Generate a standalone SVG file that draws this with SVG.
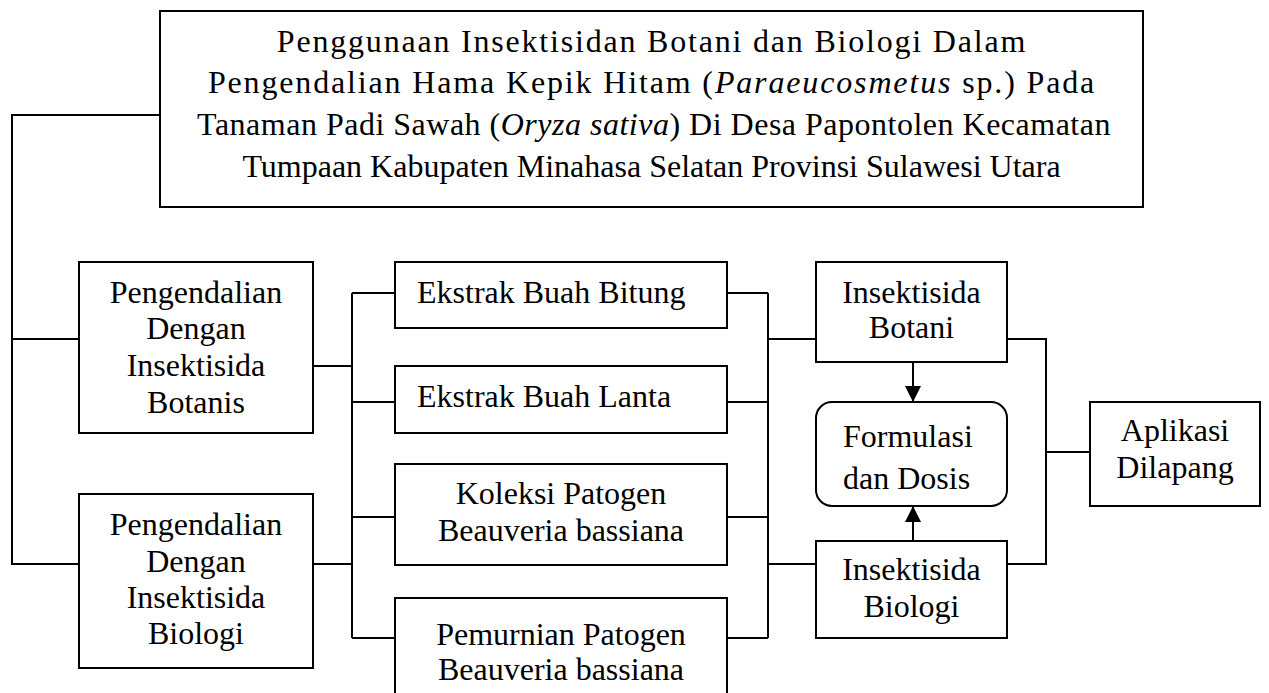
<svg xmlns="http://www.w3.org/2000/svg" width="1269" height="693" viewBox="0 0 1269 693">
<style>
.box{fill:#fff;stroke:#000;stroke-width:2}
.t{font-family:"Liberation Serif","Times New Roman",serif;font-size:32px;fill:#000}
.c{text-anchor:middle}
.ln{fill:none;stroke:#000;stroke-width:2}
</style>
<defs>
<marker id="ah" markerWidth="16" markerHeight="16" refX="16" refY="8" orient="auto" markerUnits="userSpaceOnUse" viewBox="0 0 16 16">
<path d="M0,0 L16,8 L0,16 Z" fill="#000"/>
</marker>
</defs>
<rect width="1269" height="693" fill="#fff"/>
<g id="connectors">
<path class="ln" d="M160,115 H12 V564 H79 M12,339 H79"/>
<path class="ln" d="M313,366 H352 M313,564 H352 M352,293 V638 M352,293 H395 M352,402 H395 M352,517 H395 M352,638 H395"/>
<path class="ln" d="M727,293 H768 M727,402 H768 M727,517 H768 M727,638 H768 M768,293 V638 M768,339 H816 M768,564 H816"/>
<path class="ln" d="M1007,339 H1046 V564 H1007 M1046,452 H1090"/>
<path class="ln" d="M913,362 V402" marker-end="url(#ah)"/>
<path class="ln" d="M913,541 V506" marker-end="url(#ah)"/>
</g>
<g id="title">
<rect class="box" x="160" y="11" width="983" height="196"/>
<text class="t c" x="652" y="52" letter-spacing="1.8">Penggunaan Insektisidan Botani dan Biologi Dalam</text>
<text class="t c" x="652" y="93" letter-spacing="1.85">Pengendalian Hama Kepik Hitam (<tspan font-style="italic">Paraeucosmetus</tspan> sp.) Pada</text>
<text class="t c" x="654" y="135" letter-spacing="0.5">Tanaman Padi Sawah (<tspan font-style="italic">Oryza sativa</tspan>) Di Desa Papontolen Kecamatan</text>
<text class="t c" x="651.5" y="177">Tumpaan Kabupaten Minahasa Selatan Provinsi Sulawesi Utara</text>
</g>
<g id="botanis">
<rect class="box" x="79" y="262" width="234" height="171"/>
<text class="t c" x="196" y="303">Pengendalian</text>
<text class="t c" x="196" y="339">Dengan</text>
<text class="t c" x="196" y="376">Insektisida</text>
<text class="t c" x="196" y="413">Botanis</text>
</g>
<g id="biologi">
<rect class="box" x="79" y="494" width="234" height="174"/>
<text class="t c" x="196" y="535">Pengendalian</text>
<text class="t c" x="196" y="572">Dengan</text>
<text class="t c" x="196" y="608">Insektisida</text>
<text class="t c" x="196" y="644">Biologi</text>
</g>
<g id="bitung">
<rect class="box" x="395" y="262" width="332" height="66"/>
<text class="t" x="417" y="303">Ekstrak Buah Bitung</text>
</g>
<g id="lanta">
<rect class="box" x="395" y="366" width="332" height="67"/>
<text class="t" x="417" y="407">Ekstrak Buah Lanta</text>
</g>
<g id="koleksi">
<rect class="box" x="395" y="464" width="332" height="101"/>
<text class="t c" x="561" y="504">Koleksi Patogen</text>
<text class="t c" x="561" y="541">Beauveria bassiana</text>
</g>
<g id="pemurnian">
<rect class="box" x="395" y="598" width="332" height="120"/>
<text class="t c" x="561" y="645">Pemurnian Patogen</text>
<text class="t c" x="561" y="680">Beauveria bassiana</text>
</g>
<g id="ins-botani">
<rect class="box" x="816" y="262" width="191" height="100"/>
<text class="t c" x="911.5" y="303">Insektisida</text>
<text class="t c" x="911.5" y="338">Botani</text>
</g>
<g id="formulasi">
<rect class="box" x="816" y="402" width="191" height="104" rx="16" ry="16"/>
<text class="t" x="843" y="447">Formulasi</text>
<text class="t" x="843" y="489">dan Dosis</text>
</g>
<g id="ins-biologi">
<rect class="box" x="816" y="541" width="191" height="97"/>
<text class="t c" x="911.5" y="580">Insektisida</text>
<text class="t c" x="911.5" y="617">Biologi</text>
</g>
<g id="aplikasi">
<rect class="box" x="1090" y="402" width="170" height="104"/>
<text class="t c" x="1175" y="441">Aplikasi</text>
<text class="t c" x="1175" y="478">Dilapang</text>
</g>
</svg>
